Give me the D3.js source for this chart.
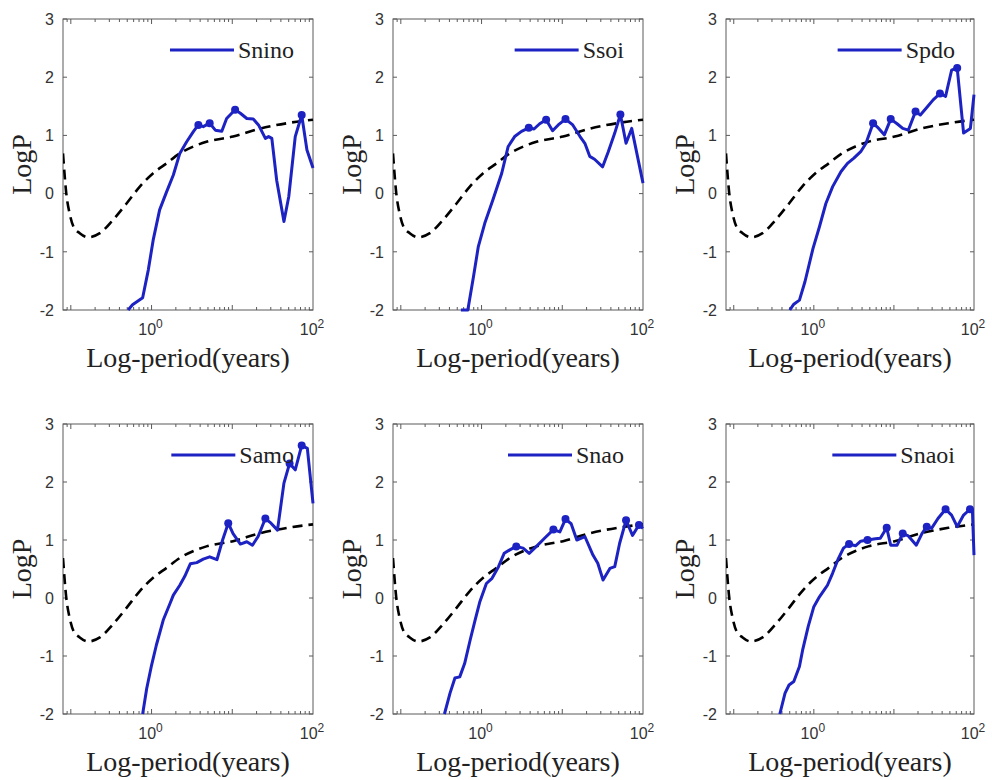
<!DOCTYPE html>
<html>
<head>
<meta charset="utf-8">
<script src="https://cdn.jsdelivr.net/npm/d3@7"></script>
<style>
  html, body { margin: 0; padding: 0; background: #fff; }
  svg { display: block; }
</style>
</head>
<body>
<svg id="chart" width="992" height="780"></svg>
<script>
// ---------------- DATA ----------------
const seriesNames = ["Snino", "Ssoi", "Spdo", "Samo", "Snao", "Snaoi"];

const xTickValues = [1, 100];
const xTickExponents = ["0", "2"];
const yTickValues = [-2, -1, 0, 1, 2, 3];

// dashed reference (significance) curve, same in every panel
const dashPeriod = [0.08, 0.0879, 0.0966, 0.108, 0.129, 0.163, 0.229, 0.334, 0.490, 0.716, 1.047, 1.535, 2.239, 3.311, 4.786, 10.23, 22.39, 47.86, 100];
const dashLogP   = [0.69, 0.0, -0.34, -0.57, -0.68, -0.75, -0.68, -0.45, -0.17, 0.12, 0.35, 0.52, 0.69, 0.81, 0.89, 0.98, 1.12, 1.21, 1.27];

const sninoPeriod = [0.513, 0.581, 0.776, 0.912, 1.047, 1.259, 1.535, 1.862, 2.239, 2.723, 3.311, 3.802, 4.365, 5.248, 6.166, 7.413, 8.511, 10.84, 12.59, 15.14, 18.20, 21.13, 25.70, 28.18, 30.90, 35.48, 43.65, 50.12, 60.26, 72.44, 84.14, 100];
const sninoLogP   = [-2.0, -1.91, -1.79, -1.31, -0.80, -0.28, 0.03, 0.32, 0.69, 0.89, 1.07, 1.18, 1.15, 1.21, 1.09, 1.07, 1.29, 1.44, 1.38, 1.29, 1.28, 1.18, 0.95, 0.98, 0.95, 0.23, -0.48, -0.05, 0.98, 1.35, 0.75, 0.44];
const sninoPeaks  = [11, 13, 17, 29];

const ssoiPeriod = [0.555, 0.676, 0.794, 0.912, 1.096, 1.380, 1.778, 2.138, 2.570, 3.126, 3.846, 4.467, 5.248, 6.310, 7.586, 8.913, 10.96, 13.49, 16.60, 19.05, 21.88, 25.12, 31.62, 37.15, 44.67, 52.48, 61.66, 72.44, 100];
const ssoiLogP   = [-2.0, -2.0, -1.43, -0.91, -0.51, -0.11, 0.35, 0.81, 0.98, 1.07, 1.13, 1.11, 1.20, 1.27, 1.08, 1.18, 1.28, 1.18, 0.98, 0.865, 0.64, 0.59, 0.46, 0.72, 1.04, 1.36, 0.865, 1.12, 0.18];
const ssoiPeaks  = [10, 13, 16, 25];

const spdoPeriod = [0.501, 0.562, 0.661, 0.776, 0.977, 1.175, 1.413, 1.718, 2.188, 2.630, 3.162, 3.846, 4.467, 5.495, 6.457, 7.586, 9.120, 10.96, 12.88, 15.14, 18.62, 21.38, 25.70, 30.90, 37.58, 44.16, 52.48, 61.66, 74.13, 90.16, 100];
const spdoLogP   = [-2.0, -1.9, -1.83, -1.51, -0.94, -0.57, -0.17, 0.12, 0.38, 0.52, 0.61, 0.72, 0.86, 1.21, 1.12, 1.01, 1.28, 1.20, 1.12, 1.09, 1.41, 1.35, 1.48, 1.61, 1.72, 1.67, 2.12, 2.16, 1.04, 1.12, 1.70];
const spdoPeaks  = [13, 16, 20, 24, 27];

const samoPeriod = [0.776, 0.871, 1.0, 1.148, 1.396, 1.698, 1.862, 2.239, 2.570, 3.020, 3.631, 4.365, 5.248, 6.457, 7.586, 8.913, 10.23, 12.59, 15.14, 17.78, 20.89, 25.70, 30.20, 36.31, 43.65, 51.29, 60.26, 72.44, 85.11, 100];
const samoLogP   = [-2.0, -1.56, -1.16, -0.81, -0.38, -0.09, 0.05, 0.22, 0.37, 0.59, 0.61, 0.67, 0.71, 0.66, 1.0, 1.29, 1.11, 0.93, 0.97, 0.91, 1.06, 1.37, 1.29, 1.17, 1.98, 2.32, 2.21, 2.63, 2.58, 1.63];
const samoPeaks  = [15, 21, 25, 27];

const snaoPeriod = [0.347, 0.407, 0.468, 0.537, 0.617, 0.724, 0.832, 0.955, 1.148, 1.349, 1.622, 1.905, 2.239, 2.692, 3.273, 3.890, 4.786, 6.026, 7.762, 9.333, 10.96, 12.88, 15.14, 19.05, 23.99, 27.54, 31.99, 38.90, 44.67, 51.29, 61.66, 74.13, 89.13, 100];
const snaoLogP   = [-2.0, -1.64, -1.38, -1.36, -1.13, -0.72, -0.38, -0.06, 0.25, 0.34, 0.54, 0.77, 0.83, 0.89, 0.86, 0.77, 0.89, 1.03, 1.18, 1.14, 1.36, 1.28, 1.0, 1.06, 0.74, 0.60, 0.31, 0.51, 0.54, 0.94, 1.34, 1.08, 1.26, 1.20];
const snaoPeaks  = [13, 18, 20, 30, 32];

const snaoiPeriod = [0.376, 0.437, 0.490, 0.562, 0.661, 0.724, 0.851, 1.0, 1.175, 1.349, 1.479, 1.718, 1.995, 2.344, 2.754, 3.311, 3.846, 4.677, 5.888, 6.761, 8.128, 9.120, 10.96, 12.88, 15.14, 19.05, 22.39, 25.70, 29.51, 35.48, 44.16, 52.48, 61.66, 74.13, 89.13, 95.50, 100];
const snaoiLogP   = [-2.0, -1.64, -1.50, -1.44, -1.18, -0.90, -0.49, -0.15, 0.02, 0.14, 0.22, 0.43, 0.66, 0.86, 0.93, 0.90, 0.98, 1.00, 1.02, 1.03, 1.21, 0.91, 0.91, 1.11, 1.07, 0.91, 1.11, 1.23, 1.20, 1.37, 1.53, 1.43, 1.23, 1.43, 1.53, 1.52, 0.74];
const snaoiPeaks  = [14, 17, 20, 23, 27, 30, 34];

const seriesPeriods = [sninoPeriod, ssoiPeriod, spdoPeriod, samoPeriod, snaoPeriod, snaoiPeriod];
const seriesLogP    = [sninoLogP, ssoiLogP, spdoLogP, samoLogP, snaoLogP, snaoiLogP];
const seriesPeaks   = [sninoPeaks, ssoiPeaks, spdoPeaks, samoPeaks, snaoPeaks, snaoiPeaks];

const xLabel = "Log-period(years)";
const yLabel = "LogP";

// ---------------- LAYOUT ----------------
const colLeft = [63, 393, 726];
const colWidth = [250, 250, 248];
const rowTop = [19, 424];
const rowHeight = [291, 290];

const blue = "#1d22c2";
const boxColor = "#5a5a5a";
const tickText = "#333";
const serif = "'Liberation Serif', 'Times New Roman', serif";
const sans = "'Liberation Sans', Arial, sans-serif";

const svg = d3.select("#chart");

seriesNames.forEach((name, i) => {
  const r = Math.floor(i / 3), c = i % 3;
  const L = colLeft[c], T = rowTop[r], W = colWidth[c], H = rowHeight[r];

  const x = d3.scaleLog().domain([0.08, 100]).range([0, W]);
  const y = d3.scaleLinear().domain([-2, 3]).range([H, 0]);

  const g = svg.append("g").attr("transform", `translate(${L},${T})`);

  const clipId = "clip" + i;
  g.append("clipPath").attr("id", clipId)
    .append("rect").attr("x", 0).attr("y", -2).attr("width", W + 2).attr("height", H + 4);

  // box
  g.append("rect").attr("x", 0).attr("y", 0).attr("width", W).attr("height", H)
    .attr("fill", "none").attr("stroke", boxColor).attr("stroke-width", 1);

  // x ticks (minor + major), top and bottom, inward
  const allTicks = x.ticks().filter(v => v > 0.08 && v < 100);
  allTicks.forEach(v => {
    const k = Math.log10(v);
    const major = Math.abs(k - Math.round(k)) < 1e-9;
    const len = major ? 5 : 3;
    const xp = x(v);
    g.append("line").attr("x1", xp).attr("x2", xp).attr("y1", H).attr("y2", H - len)
      .attr("stroke", boxColor).attr("stroke-width", 1);
    g.append("line").attr("x1", xp).attr("x2", xp).attr("y1", 0).attr("y2", len)
      .attr("stroke", boxColor).attr("stroke-width", 1);
  });

  // y ticks left & right inward
  yTickValues.forEach(v => {
    const yp = y(v);
    g.append("line").attr("x1", 0).attr("x2", 4).attr("y1", yp).attr("y2", yp)
      .attr("stroke", boxColor);
    g.append("line").attr("x1", W).attr("x2", W - 4).attr("y1", yp).attr("y2", yp)
      .attr("stroke", boxColor);
    g.append("text").attr("x", -9).attr("y", yp).attr("dy", "0.36em")
      .attr("text-anchor", "end").attr("font-family", sans).attr("font-size", 16)
      .attr("fill", tickText).text(v);
  });

  // x tick labels 10^k
  xTickValues.forEach((v, j) => {
    const t = g.append("text").attr("x", x(v) - 1).attr("y", H + 25)
      .attr("text-anchor", "middle").attr("font-family", sans).attr("font-size", 16)
      .attr("fill", tickText);
    t.append("tspan").text("10");
    t.append("tspan").attr("dy", -7).attr("font-size", 12).text(xTickExponents[j]);
  });

  // axis labels
  g.append("text").attr("x", W / 2).attr("y", H + 57).attr("text-anchor", "middle")
    .attr("font-family", serif).attr("font-size", 28).attr("fill", "#222").text(xLabel);
  g.append("text").attr("transform", `translate(${-32},${H / 2}) rotate(-90)`)
    .attr("text-anchor", "middle").attr("font-family", serif).attr("font-size", 28)
    .attr("fill", "#222").text(yLabel);

  const plot = g.append("g").attr("clip-path", `url(#${clipId})`);

  // dashed curve
  const dashData = dashPeriod.map((p, k) => [p, dashLogP[k]]);
  plot.append("path").datum(dashData)
    .attr("d", d3.line().x(d => x(d[0])).y(d => y(d[1])).curve(d3.curveMonotoneX))
    .attr("fill", "none").attr("stroke", "#000").attr("stroke-width", 2.6)
    .attr("stroke-dasharray", "10,6");

  // blue series
  const per = seriesPeriods[i], lp = seriesLogP[i];
  const data = per.map((p, k) => [p, lp[k]]);
  plot.append("path").datum(data)
    .attr("d", d3.line().x(d => x(d[0])).y(d => y(d[1])))
    .attr("fill", "none").attr("stroke", blue).attr("stroke-width", 3)
    .attr("stroke-linejoin", "round");

  plot.selectAll("circle.pk").data(seriesPeaks[i].map(k => data[k])).enter()
    .append("circle").attr("class", "pk")
    .attr("cx", d => x(d[0])).attr("cy", d => y(d[1])).attr("r", 4)
    .attr("fill", blue);

  // legend (right aligned)
  const lt = g.append("text").attr("y", 39).attr("font-family", serif).attr("font-size", 24)
    .attr("fill", "#222").text(name);
  const tw = lt.node().getComputedTextLength();
  const tx = W - 19 - tw;
  lt.attr("x", tx);
  g.append("line").attr("x1", tx - 68).attr("x2", tx - 4).attr("y1", 31).attr("y2", 31)
    .attr("stroke", blue).attr("stroke-width", 3);
});
</script>
</body>
</html>
